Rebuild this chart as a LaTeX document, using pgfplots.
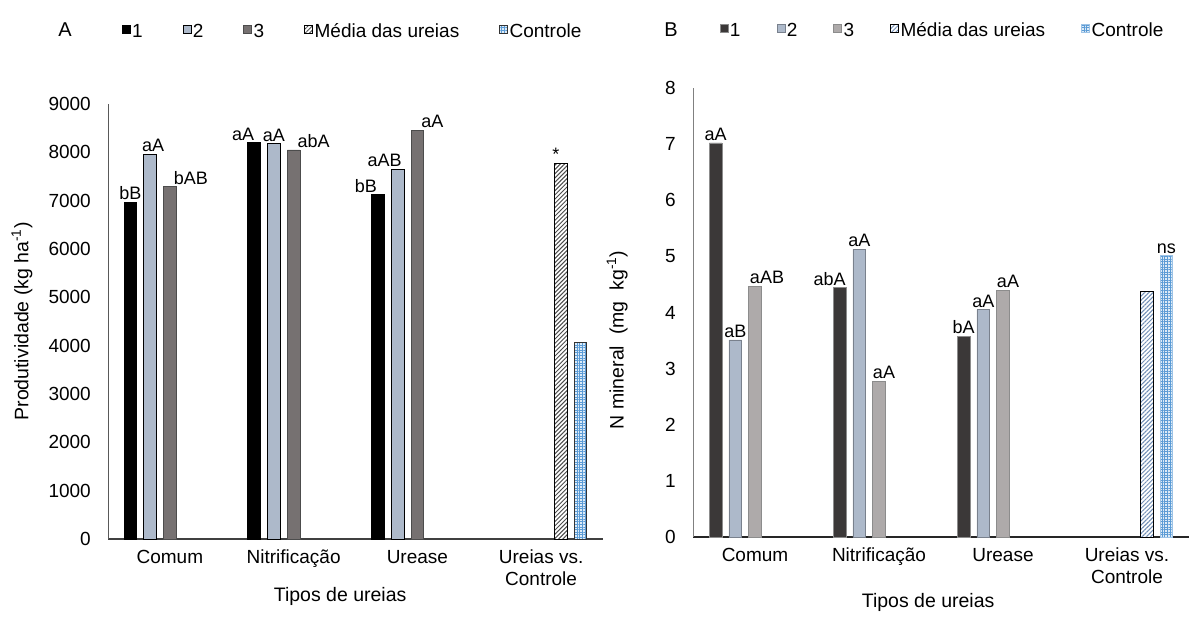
\documentclass[border=0pt]{standalone}
\usepackage{fontspec}
\setmainfont{Liberation Sans}
\usepackage{pgfplots}
\pgfplotsset{compat=1.18}
\usetikzlibrary{patterns.meta}
\newcommand\fs{\fontsize{19}{22}\selectfont}
\newcommand\fl{\fontsize{19}{22}\selectfont}
\newcommand\fb{\fontsize{18}{21}\selectfont}
\newcommand\ls{\rule[-4.4pt]{0pt}{22.4pt}}
\definecolor{cA2}{HTML}{ADB9CA}
\definecolor{cA3}{HTML}{767171}
\definecolor{cB1}{HTML}{3B3838}
\definecolor{cB3}{HTML}{AEAAAA}
\definecolor{blueP}{HTML}{5B9BD5}
\definecolor{lightP}{HTML}{DDEBF7}
\definecolor{hatchB}{HTML}{6F8DB5}
\pgfplotsset{
 mybar/.style={
   scale only axis, ybar=7pt, bar width=12.7pt,
   xmin=-0.5, xmax=3.5, xtick={0,1,2,3},
   xticklabels={Comum,Nitrificação,Urease,{Ureias vs.\\Controle}},
   axis x line*=bottom, axis y line*=left,
   major tick length=0pt, xtick style={draw=none}, ytick style={draw=none},
   tick label style={font=\fs},
   xticklabel style={align=center, anchor=north, inner sep=0pt, yshift=-11pt},
   yticklabel style={anchor=east, inner sep=0pt, xshift=-17pt},
   /pgf/number format/assume math mode=true,
   /pgf/number format/1000 sep={},
   clip=false,
   nodes near coords, point meta=explicit symbolic,
   visualization depends on={\thisrow{dx}\as\dx},
   every node near coord/.append style={font=\fb, inner sep=2pt, anchor=south, xshift=\dx pt},
   legend columns=5,
   legend style={draw=none, fill=none, font=\fl, anchor=west, inner sep=0pt,
     nodes={inner sep=1.5pt}},
   legend image code/.code={\draw[#1] (0pt,-4pt) rectangle (8pt,4pt);},
   label style={font=\fontsize{19.5}{22}\selectfont},
 }
}
\begin{document}
\begin{tikzpicture}
\path[use as bounding box] (0,0) rectangle (1195pt,631pt);
\node[font=\fontsize{20}{22}\selectfont] at (65pt,601pt) {A};
\node[font=\fontsize{20}{22}\selectfont] at (671pt,601pt) {B};
\begin{axis}[mybar, at={(108pt,92pt)}, anchor=south west,
  width=495pt, height=435pt, ymin=0, ymax=9000, ytick={0,1000,...,9000},
  x axis line style={draw=black!75, line width=1.2pt},
  y axis line style={draw=black!65, line width=1pt},
  ylabel={Produtividade (kg ha\textsuperscript{-1})},
  ylabel style={at={(axis description cs:-0.174,0.5)}, anchor=center},
  xlabel={Tipos de ureias},
  xlabel style={at={(axis description cs:0.469,-0.133)}, anchor=center},
  legend style={at={(axis description cs:0.0273,1.172)},
     /tikz/every even column/.append style={column sep=38.5pt}},
]
\addplot[fill=black, draw=black, line width=0.8pt] table[meta=lab]{
x y lab dx
0 6970 bB 0
1 8200 aA -11
2 7120 bB -12
};
\addplot[fill=cA2, draw=black, line width=0.8pt] table[meta=lab]{
x y lab dx
0 7960 aA 3
1 8180 aA 0
2 7655 aAB -13
};
\addplot[fill=cA3, draw=black!70, line width=0.8pt] table[meta=lab]{
x y lab dx
0 7290 bAB 21
1 8050 abA 20
2 8460 aA 15
};
\addplot[fill=white, draw=black, line width=0.8pt,
  postaction={pattern={Lines[angle=45,distance=3pt,line width=1pt]}, pattern color=black!70}] table[meta=lab]{
x y lab dx
3 7775 * -5
};
\addplot[fill=lightP, draw=black!80, line width=0.8pt,
  postaction={pattern={Hatch[distance=2.6pt,line width=0.8pt,angle=0]}, pattern color=blueP}] table[meta=lab]{
x y lab dx
3 4060 {} 0
};
\legend{1\ls,2\ls,3\ls,Média das ureias\ls\hspace{22pt},Controle\ls}
\end{axis}
\begin{axis}[mybar, at={(693pt,94pt)}, anchor=south west,
  width=496pt, height=449pt, ymin=0, ymax=8, ytick={0,1,...,8},
  x axis line style={draw=black!85, line width=1.2pt},
  y axis line style={draw=black!50, line width=1pt},
  ylabel={N mineral\ \ (mg\ \ kg\textsuperscript{-1})},
  ylabel style={at={(axis description cs:-0.153,0.439)}, anchor=center},
  xlabel={Tipos de ureias},
  xlabel style={at={(axis description cs:0.474,-0.145)}, anchor=center},
  legend style={at={(axis description cs:0.0534,1.133)},
     /tikz/every even column/.append style={column sep=34.5pt}},
]
\addplot[fill=cB1, draw=black!45, line width=0.8pt] table[meta=lab]{
x y lab dx
0 7.02 aA 0
1 4.44 abA -10
2 3.58 bA 0
};
\addplot[fill=cA2, draw=cA2!70!black, line width=0.8pt] table[meta=lab]{
x y lab dx
0 3.51 aB 0
1 5.13 aA 0
2 4.05 aA 0
};
\addplot[fill=cB3, draw=black!45, line width=0.8pt] table[meta=lab]{
x y lab dx
0 4.47 aAB 12
1 2.77 aA 5
2 4.40 aA 5
};
\addplot[fill=white, draw=black, line width=0.8pt,
  postaction={pattern={Lines[angle=45,distance=3pt,line width=1pt]}, pattern color=hatchB}] table[meta=lab]{
x y lab dx
3 4.37 {} 0
};
\addplot[fill=lightP, draw=blueP!60, line width=0.8pt,
  postaction={pattern={Hatch[distance=2.6pt,line width=0.8pt,angle=0]}, pattern color=blueP}] table[meta=lab]{
x y lab dx
3 5.01 ns 0
};
\legend{1\ls,2\ls,3\ls,Média das ureias\ls\hspace{14pt},Controle\ls}
\end{axis}
\end{tikzpicture}
\end{document}
